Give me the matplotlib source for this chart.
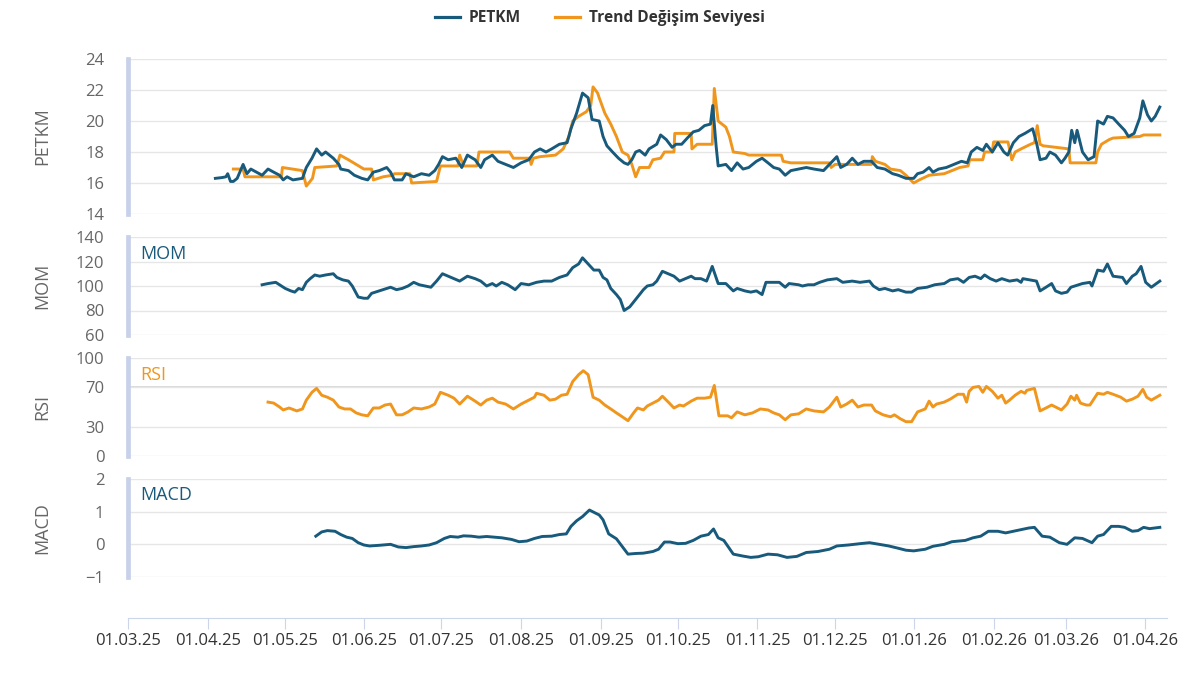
import numpy as np
import pandas as pd
import matplotlib
matplotlib.use('Agg')
import matplotlib.pyplot as plt
import matplotlib.dates as mdates
from matplotlib.lines import Line2D

plt.rcParams['font.family'] = ['Open Sans', 'DejaVu Sans']

BASE = pd.Timestamp("2025-03-01")

# günler = 01.03.25'ten itibaren gün sayısı
petkm_day = [34.0, 36.6, 38.1, 38.8, 39.9, 41.0, 42.5, 44.8, 46.3, 47.8, 50.0, 52.2, 54.5, 56.7,
             59.0, 60.4, 61.9, 64.2, 67.9, 69.4, 71.6, 73.4, 75.4, 76.9, 79.9, 82.1, 82.8, 85.8,
             88.1, 91.0, 93.3, 95.5, 97.8, 100.7, 102.2, 103.7, 106.7, 108.2, 111.2, 114.2, 117.2,
             119.4, 120.9, 122.4, 124.6, 127.6, 129.9, 132.1, 135.1, 137.3, 138.8, 141.8, 144.0,
             147.0, 150.0, 153.0, 156.0, 158.2, 160.4, 162.7, 164.9, 167.9, 170.9, 172.4, 174.6,
             176.9, 179.1, 180.6, 183.4, 184.9, 186.4, 188.6, 190.9, 193.1, 194.6, 196.1, 197.6,
             199.1, 201.3, 202.8, 205.8, 207.3, 209.5, 211.8, 213.3, 215.5, 217.7, 220.0, 222.2,
             224.4, 226.7, 227.6, 228.9, 229.7, 232.7, 234.9, 237.1, 239.4, 241.6, 244.6, 246.8,
             249.1, 251.3, 253.5, 255.8, 258.0, 261.0, 264.0, 267.0, 270.7, 273.0, 275.9, 277.4,
             279.7, 281.9, 284.1, 286.4, 289.4, 291.6, 294.6, 297.6, 299.8, 302.8, 305.8, 307.3,
             309.5, 311.8, 313.3, 315.5, 318.5, 321.5, 324.4, 326.7, 328.2, 330.4, 332.7, 334.1,
             336.4, 338.6, 340.9, 342.4, 344.6, 346.8, 349.1, 352.1, 353.6, 355.0, 357.3, 358.8,
             361.0, 363.3, 364.7, 366.2, 367.3, 368.5, 369.4, 371.5, 373.7, 376.0, 377.4, 379.7,
             381.2, 383.4, 385.6, 387.9, 389.4, 391.6, 393.8, 395.0, 396.8, 398.3, 399.8, 401.6]
petkm_val = [16.3, 16.35, 16.4, 16.6, 16.1, 16.1, 16.3, 17.2, 16.6, 16.9, 16.7, 16.5, 16.9, 16.7,
             16.5, 16.2, 16.4, 16.2, 16.3, 17.0, 17.6, 18.2, 17.8, 18.0, 17.6, 17.2, 16.9, 16.8,
             16.5, 16.3, 16.2, 16.7, 16.8, 17.0, 16.7, 16.2, 16.2, 16.6, 16.4, 16.6, 16.5,
             16.8, 17.2, 17.7, 17.5, 17.6, 17.0, 17.8, 17.5, 17.0, 17.5, 17.8, 17.4,
             17.2, 17.0, 17.3, 17.5, 18.0, 18.2, 18.0, 18.2, 18.5, 18.6, 19.5, 20.5,
             21.8, 21.5, 20.1, 20.0, 19.0, 18.4, 18.0, 17.6, 17.3, 17.2, 17.5, 18.0,
             18.1, 17.8, 18.2, 18.5, 19.1, 18.8, 18.3, 18.5, 18.5, 18.9, 19.3, 19.4,
             19.7, 19.8, 21.0, 18.4, 17.1, 17.2, 16.8, 17.3, 16.9, 17.0, 17.4, 17.6,
             17.3, 17.0, 16.9, 16.5, 16.8, 16.9, 17.0, 16.9, 16.8, 17.2, 17.7, 17.0,
             17.2, 17.6, 17.2, 17.4, 17.4, 17.0, 16.9, 16.6, 16.5, 16.3, 16.3, 16.6,
             16.7, 17.0, 16.7, 16.9, 17.0, 17.2, 17.4, 17.3, 18.0, 18.3, 18.1, 18.5,
             18.0, 18.6, 18.0, 17.8, 18.6, 19.0, 19.2, 19.5, 18.6, 17.5, 17.6, 18.0,
             17.8, 17.3, 17.6, 18.0, 19.4, 18.6, 19.4, 18.0, 17.5, 17.7, 20.0, 19.8,
             20.3, 20.2, 19.8, 19.4, 19.0, 19.2, 20.2, 21.3, 20.4, 20.0, 20.3, 20.9]

trend_day = [41.0, 44.8, 45.5, 59.7, 60.1, 67.9, 69.4, 71.8, 72.7, 81.3, 82.5, 85.8, 88.8, 91.8,
             94.8, 95.5, 99.3, 103.0, 103.7, 109.7, 110.4, 120.1, 121.6, 128.4, 129.1, 130.6,
             135.8, 136.6, 148.5, 150.0, 156.4, 156.9, 157.8, 160.4, 166.4, 169.4, 171.6, 173.1,
             175.4, 178.4, 180.1, 181.0, 182.8, 183.4, 185.6, 187.9, 190.1, 192.4, 194.6, 196.1,
             197.6, 199.1, 202.8, 204.3, 207.3, 208.8, 212.5, 212.8, 219.2, 219.5, 221.5, 227.4,
             228.2, 229.7, 232.7, 234.1, 235.6, 240.1, 241.6, 254.3, 255.0, 258.0, 273.0, 273.7,
             275.2, 289.4, 289.7, 290.9, 294.6, 296.8, 300.6, 302.8, 305.8, 308.0, 311.8, 317.7,
             320.7, 323.7, 327.0, 327.6, 332.7, 333.4, 336.4, 336.9, 342.5, 344.0, 345.3, 347.6,
             351.3, 352.8, 353.9, 355.0, 356.2, 366.2, 366.7, 376.7, 377.4, 378.9, 381.9, 383.4,
             393.8, 395.3, 401.6]
trend_val = [16.9, 16.9, 16.4, 16.4, 17.0, 16.8, 15.8, 16.3, 17.0, 17.1, 17.8, 17.5, 17.2, 16.9,
             16.9, 16.2, 16.4, 16.5, 16.6, 16.6, 16.0, 16.1, 17.1, 17.1, 17.8, 17.1,
             17.1, 18.0, 18.0, 17.6, 17.6, 17.2, 17.6, 17.7, 17.8, 18.2, 19.0, 20.0,
             20.3, 20.6, 21.0, 22.2, 21.8, 21.5, 20.5, 19.8, 19.0, 18.0, 17.8, 17.2,
             16.4, 17.0, 17.0, 17.5, 17.6, 18.0, 18.0, 19.2, 19.2, 18.2, 18.5, 18.5,
             22.1, 20.0, 19.6, 19.0, 18.0, 17.9, 17.8, 17.8, 17.4, 17.3, 17.3, 17.0,
             17.2, 17.2, 17.7, 17.4, 17.2, 16.9, 16.8, 16.5, 16.0, 16.2, 16.5, 16.6,
             16.8, 17.0, 17.1, 17.5, 17.5, 18.0, 18.0, 18.65, 18.65, 17.5, 18.0, 18.2,
             18.5, 18.6, 19.7, 18.5, 18.4, 18.2, 17.3, 17.3, 18.0, 18.5, 18.8, 18.9,
             19.0, 19.1, 19.1]

mom_day = [52.2, 54.5, 57.5, 59.0, 61.2, 63.4, 64.9, 66.4, 67.9, 69.4, 70.9, 72.7, 74.6, 76.9,
           79.9, 81.3, 83.6, 85.8, 87.3, 89.6, 91.8, 93.3, 94.8, 97.8, 100.7, 102.2, 104.5, 106.7,
           109.0, 111.2, 113.4, 115.7, 117.9, 120.1, 122.4, 124.6, 126.9, 129.1, 132.1, 135.1,
           137.3, 139.6, 141.8, 143.3, 145.5, 147.8, 150.7, 153.0, 156.0, 159.0, 161.9, 164.9,
           167.9, 170.9, 173.1, 175.4, 176.9, 179.1, 181.3, 183.4, 184.9, 186.4, 187.9, 190.1,
           191.6, 193.1, 195.3, 197.6, 199.1, 200.6, 202.1, 204.3, 205.8, 208.0, 210.3, 212.5,
           214.7, 217.0, 219.2, 220.7, 223.0, 225.2, 227.4, 229.7, 232.7, 235.6, 237.1, 240.1,
           242.4, 244.6, 246.8, 248.3, 253.5, 255.8, 257.3, 261.0, 262.5, 264.7, 267.0, 269.2,
           272.2, 275.9, 278.2, 281.9, 284.9, 288.6, 290.1, 292.4, 294.6, 297.6, 299.8, 302.8,
           305.0, 307.3, 311.0, 314.0, 317.7, 320.0, 323.0, 325.2, 327.4, 329.7, 331.9, 333.4,
           335.6, 337.9, 340.1, 343.1, 346.1, 347.6, 348.3, 353.6, 355.0, 357.3, 359.5, 361.0,
           363.3, 365.5, 367.0, 368.5, 371.5, 374.4, 375.2, 377.4, 379.7, 381.2, 383.4, 387.1,
           388.6, 390.9, 392.4, 394.3, 396.1, 398.3, 401.6]
mom_val = [101, 102, 103, 101, 98, 96, 95, 98, 97, 103, 106, 109, 108, 109,
           110, 107, 105, 104, 100, 91, 90, 90, 94, 96, 98, 99, 97, 98,
           100, 103, 101, 100, 99, 104, 110, 108, 106, 104, 108, 106,
           104, 100, 102, 100, 103, 101, 97, 102, 101, 103, 104, 104,
           107, 109, 115, 118, 123, 118, 113, 113, 107, 105, 98, 93,
           89, 80, 83, 89, 93, 97, 100, 101, 104, 112, 110, 108,
           104, 106, 108, 106, 106, 104, 116, 102, 102, 96, 98, 96,
           95, 96, 93, 103, 103, 99, 102, 101, 100, 101, 101, 103,
           105, 106, 103, 104, 103, 104, 100, 97, 98, 96, 97, 95,
           95, 98, 99, 101, 102, 105, 106, 103, 107, 108, 106, 109,
           106, 104, 106, 104, 105, 103, 106, 104, 96, 99, 102, 96,
           94, 95, 99, 100, 102, 103, 100, 113, 112, 118, 108, 107,
           102, 108, 110, 116, 103, 99, 104]

rsi_day = [54.5, 56.7, 59.0, 60.4, 62.7, 65.7, 67.9, 69.4, 71.6, 73.4, 75.4, 77.6, 79.9, 82.1,
           84.3, 86.6, 88.8, 91.0, 93.3, 95.5, 97.8, 100.0, 102.2, 104.5, 106.7, 109.0, 111.2,
           114.2, 117.2, 119.4, 121.6, 124.6, 126.9, 129.1, 132.1, 135.1, 137.3, 139.6, 141.8,
           144.0, 147.0, 150.0, 153.0, 156.0, 158.2, 159.0, 161.9, 164.2, 166.4, 168.7, 170.9,
           173.1, 175.4, 177.2, 179.1, 181.0, 183.4, 185.6, 187.9, 190.1, 192.4, 194.6, 196.8,
           198.3, 200.6, 202.1, 204.3, 206.5, 208.0, 210.3, 212.5, 214.7, 216.2, 219.2, 221.5,
           224.4, 226.7, 228.2, 230.0, 233.4, 234.9, 237.1, 240.1, 243.1, 246.1, 249.1, 251.3,
           253.5, 255.8, 258.0, 261.0, 264.0, 267.0, 270.7, 273.0, 275.9, 277.4, 279.7, 281.9,
           284.1, 286.4, 289.4, 290.9, 293.9, 296.8, 298.3, 300.6, 302.8, 305.0, 307.3, 310.3,
           311.8, 313.3, 314.7, 317.7, 320.0, 323.0, 325.2, 326.4, 327.4, 328.9, 331.2, 332.7,
           334.1, 336.4, 338.6, 340.1, 341.6, 343.1, 345.3, 347.6, 349.1, 349.8, 352.8, 355.0,
           357.3, 359.5, 361.8, 363.3, 365.5, 367.0, 368.5, 369.2, 370.7, 373.0, 374.4, 377.4,
           379.7, 381.2, 383.4, 386.4, 388.6, 390.9, 393.1, 395.0, 396.5, 398.3, 401.6]
rsi_val = [55, 54, 50, 47, 49, 46, 48, 57, 65, 69, 62, 60, 57, 50,
           48, 48, 44, 42, 41, 49, 49, 52, 53, 42, 42, 45, 49,
           48, 50, 53, 65, 62, 59, 53, 61, 56, 52, 57, 59,
           55, 53, 48, 53, 57, 60, 64, 62, 57, 58, 62, 63,
           76, 83, 87, 83, 60, 57, 52, 48, 44, 40, 36, 44,
           49, 47, 51, 54, 57, 61, 55, 49, 52, 51, 56, 59,
           59, 60, 72, 41, 41, 39, 45, 42, 44, 48, 47, 44,
           42, 37, 42, 43, 48, 46, 45, 50, 60, 50, 53, 57,
           50, 52, 52, 46, 42, 40, 42, 38, 35, 35, 45, 48,
           56, 50, 53, 55, 58, 63, 63, 55, 66, 70, 71, 65,
           71, 66, 59, 62, 54, 57, 62, 66, 64, 67, 69, 46,
           49, 52, 49, 47, 53, 61, 57, 62, 54, 52, 52, 64,
           63, 65, 63, 60, 56, 58, 61, 68, 60, 57, 62]

macd_day = [73.1, 75.4, 77.6, 80.6, 82.8, 85.1, 87.3, 89.6, 91.8, 94.0, 97.8, 102.2, 105.2, 108.2,
            111.2, 114.2, 117.2, 120.1, 123.1, 125.4, 128.4, 130.6, 133.6, 136.6, 139.6, 142.5,
            145.5, 149.3, 152.2, 155.2, 158.2, 161.2, 164.9, 167.9, 170.6, 172.4, 174.6, 176.9,
            179.6, 182.1, 183.4, 184.9, 187.1, 190.1, 194.6, 197.6, 200.6, 204.3, 206.5, 208.8,
            211.0, 214.0, 217.0, 220.0, 223.0, 225.9, 227.9, 229.7, 231.9, 233.4, 235.6, 239.4,
            242.4, 245.3, 249.1, 252.8, 256.5, 260.3, 264.0, 268.5, 273.0, 275.9, 280.4, 284.9,
            288.6, 292.4, 296.1, 299.8, 302.8, 305.8, 310.3, 313.3, 317.7, 320.7, 325.9, 328.9,
            331.9, 334.9, 338.6, 341.6, 344.6, 347.6, 350.6, 352.8, 355.8, 358.8, 362.5, 365.5,
            368.5, 371.5, 375.2, 377.4, 379.7, 382.7, 385.6, 387.9, 390.9, 393.1, 395.3, 397.6,
            401.6]
macd_val = [0.25, 0.38, 0.42, 0.40, 0.30, 0.22, 0.18, 0.05, -0.02, -0.05, -0.03, 0.0, -0.08, -0.10,
            -0.07, -0.05, -0.02, 0.05, 0.18, 0.24, 0.22, 0.26, 0.25, 0.22, 0.24, 0.22,
            0.20, 0.15, 0.08, 0.10, 0.18, 0.24, 0.25, 0.30, 0.32, 0.55, 0.72, 0.85,
            1.05, 0.95, 0.90, 0.75, 0.32, 0.17, -0.30, -0.28, -0.27, -0.22, -0.15, 0.07,
            0.07, 0.02, 0.03, 0.12, 0.25, 0.30, 0.47, 0.20, 0.12, -0.05, -0.30, -0.36,
            -0.40, -0.38, -0.30, -0.32, -0.40, -0.37, -0.25, -0.22, -0.15, -0.05, -0.02, 0.02,
            0.05, 0.00, -0.05, -0.12, -0.18, -0.20, -0.15, -0.06, 0.00, 0.08, 0.12, 0.20,
            0.25, 0.40, 0.40, 0.35, 0.40, 0.45, 0.50, 0.52, 0.25, 0.22, 0.05, 0.00,
            0.20, 0.18, 0.05, 0.25, 0.30, 0.55, 0.55, 0.52, 0.40, 0.42, 0.52, 0.48,
            0.52]

month_ticks = pd.date_range("2025-03-01", "2026-04-01", freq="MS")

TEAL = "#185a7c"
ORANGE = "#f0961c"
GRID = "#e6e6e6"
BAR = "#c8d1ea"


def to_dates(days):
    return BASE + pd.to_timedelta(np.array(days), unit="D")


fig = plt.figure(figsize=(12, 6.91), dpi=100)
W, H = 1200, 691
left, right = 128, 1167


def panel(top, bottom):
    return fig.add_axes([left / W, 1 - bottom / H, (right - left) / W, (bottom - top) / H])


ax1 = panel(59, 214)
ax2 = panel(237, 335)
ax3 = panel(358, 456)
ax4 = panel(479, 577)
axx = panel(617, 617.5)

xmin = BASE
xmax = BASE + pd.Timedelta(days=404.4)

panels = [
    (ax1, [14, 16, 18, 20, 22, 24], (14, 24), "PETKM"),
    (ax2, [60, 80, 100, 120, 140], (60, 140), "MOM"),
    (ax3, [0, 30, 70, 100], (0, 100), "RSI"),
    (ax4, [-1, 0, 1, 2], (-1, 2), "MACD"),
]
for ax, ticks, lim, name in panels:
    ax.set_xlim(xmin, xmax)
    ax.set_ylim(*lim)
    ax.set_yticks(ticks)
    ax.set_yticklabels(["\u22121" if t == -1 else str(t) for t in ticks])
    ax.tick_params(axis="y", length=0, pad=17, labelsize=12, labelcolor="#666666")
    ax.set_xticks([])
    for s in ["top", "right", "bottom"]:
        ax.spines[s].set_visible(False)
    ax.spines["left"].set_color(BAR)
    ax.spines["left"].set_linewidth(3.4)
    ax.grid(axis="y", color=GRID, linewidth=1)
    ax.set_axisbelow(True)
    ax.patch.set_alpha(0)
    ax.text(-0.083, 0.5, name, transform=ax.transAxes, rotation=90, ha="center", va="center",
            fontsize=13, color="#666666")

# RSI 70 çizgisi biraz daha koyu
ax3.axhline(70, color="#d2d2d2", linewidth=1.2, zorder=0.5)

LW = 2.1
ax1.plot(to_dates(petkm_day), petkm_val, color=TEAL, linewidth=LW, zorder=3)
ax1.plot(to_dates(trend_day), trend_val, color=ORANGE, linewidth=LW, zorder=2)
ax2.plot(to_dates(mom_day), mom_val, color=TEAL, linewidth=LW)
ax3.plot(to_dates(rsi_day), rsi_val, color=ORANGE, linewidth=LW)
ax4.plot(to_dates(macd_day), macd_val, color=TEAL, linewidth=LW)

ax2.text(0.012, 0.83, "MOM", transform=ax2.transAxes, ha="left", va="center", fontsize=13, color=TEAL)
ax3.text(0.012, 0.83, "RSI", transform=ax3.transAxes, ha="left", va="center", fontsize=13, color=ORANGE)
ax4.text(0.012, 0.84, "MACD", transform=ax4.transAxes, ha="left", va="center", fontsize=13, color=TEAL)

# alt tarih ekseni
axx.set_xlim(xmin, xmax)
axx.set_yticks([])
axx.patch.set_alpha(0)
for s in ["top", "right", "left"]:
    axx.spines[s].set_visible(False)
axx.spines["bottom"].set_color("#ccd6eb")
axx.set_xticks(month_ticks)
axx.xaxis.set_major_formatter(mdates.DateFormatter("%d.%m.%y"))
axx.tick_params(axis="x", direction="out", length=8, color="#ccd6eb", pad=3, labelsize=12,
                labelcolor="#333333")

handles = [Line2D([], [], color=TEAL, linewidth=2.3), Line2D([], [], color=ORANGE, linewidth=2.3)]
fig.legend(handles, ["PETKM", "Trend Değişim Seviyesi"], loc="center", bbox_to_anchor=(0.5, 1 - 18 / H),
           ncol=2, frameon=False, handlelength=1.6, handletextpad=0.6, columnspacing=2.2,
           prop={"size": 11.2, "weight": "bold"}, labelcolor="#333333")

fig.savefig("out.png", dpi=100)
